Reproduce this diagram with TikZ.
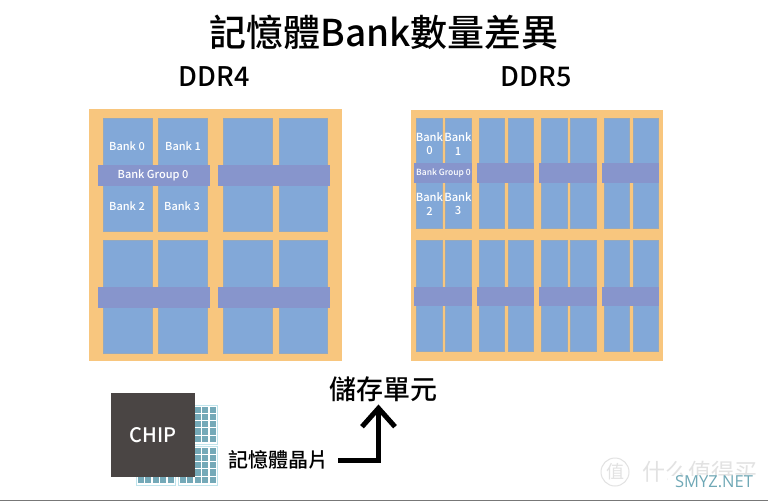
\documentclass[tikz,border=0pt]{standalone}
\usepackage{fontspec}
\usetikzlibrary{arrows.meta}
\setmainfont{Open Sans}
\newfontfamily\cjk{Noto Sans CJK TC}
\newfontfamily\cjkm{Noto Sans CJK TC Medium}
\definecolor{orangebg}{HTML}{F8C67E}
\definecolor{bankblue}{HTML}{82A8D8}
\definecolor{bankedge}{HTML}{95A9BE}
\definecolor{barblue}{HTML}{8795CC}
\definecolor{chipgrey}{HTML}{4A4544}
\definecolor{cellteal}{HTML}{74A9B8}
\definecolor{celledge}{HTML}{BFE4EC}
\definecolor{marktxt}{HTML}{E2E2E2}
\definecolor{netteal}{HTML}{6FA8B6}
\definecolor{rulegrey}{HTML}{777777}
\newcommand{\fsz}[1]{\fontsize{#1}{#1}\selectfont}
\tikzset{
  x=1pt,y=-1pt,
  board/.style={fill=orangebg,draw=none},
  column/.style={fill=bankblue,draw=bankedge,line width=0.7pt},
  groupbar/.style={fill=barblue,draw=none},
  banklabel/.style={text=white,inner sep=0pt,align=center,font=\fsz{11}\cjkm},
  banklabelb/.style={text=white,inner sep=0pt,align=center,font=\fsz{11.2}\cjkm,text width=28pt},
  headline/.style={text=black,inner sep=0pt,font=\fsz{27}\cjkm},
  piece/.style={fill=white,draw=celledge,line width=0.9pt},
  cell/.style={fill=cellteal,draw=none},
}
\begin{document}
\begin{tikzpicture}
\useasboundingbox (0,0) rectangle (768,501);
\fill[white] (0,0) rectangle (768,501);
% titles
\node[inner sep=0pt,font=\fsz{37}\cjkm] (title) at (384,32) {記憶體Bank數量差異};
\node[headline] (ddr4) at (214,77) {DDR4};
\node[headline] (ddr5) at (536,77) {DDR5};
% DDR4 board
\fill[board] (89,109) rectangle (342,361);
\foreach \a/\b in {103/152,158/207,223/272,279/327}{
  \draw[column] (\a,118) rectangle (\b,231);
  \draw[column] (\a,240) rectangle (\b,353);
}
\foreach \a/\b in {98/210,218/330}{
  \fill[groupbar] (\a,165) rectangle (\b,186);
  \fill[groupbar] (\a,287) rectangle (\b,308);
}
\node[banklabel] (a0) at (127,146) {Bank 0};
\node[banklabel] (a1) at (183,146) {Bank 1};
\node[banklabel] (ag) at (153,175) {Bank Group 0};
\node[banklabel] (a2) at (127,206) {Bank 2};
\node[banklabel] (a3) at (182,206) {Bank 3};
% DDR5 board
\fill[board] (411,110) rectangle (663,361);
\foreach \a/\b in {416/442,445/471,479/504,508/533,541/567,570/596,604/629,633/658}{
  \draw[column] (\a,118) rectangle (\b,228);
  \draw[column] (\a,240) rectangle (\b,351);
}
\foreach \a/\b in {414/472,477/534,539/597,602/659}{
  \fill[groupbar] (\a,163) rectangle (\b,183);
  \fill[groupbar] (\a,287) rectangle (\b,306);
}
\node[banklabelb] (b0) at (429.5,144) {Bank\\[2pt]0};
\node[banklabelb] (b1) at (458,144) {Bank\\[2pt]1};
\node[banklabel,font=\fsz{8.5}\cjkm] (bg) at (443.5,173.5) {Bank Group 0};
\node[banklabelb] (b2) at (429.5,204) {Bank\\[2pt]2};
\node[banklabelb] (b3) at (458,204) {Bank\\[2pt]3};
% memory dies
\foreach \px/\py in {178/405,178/446,136/446}{
  \draw[piece] (\px,\py) rectangle ++(39,39);
  \foreach \i in {0,...,4}{\foreach \j in {0,...,4}{
    \fill[cell] (\px+1.5+7.5*\i,\py+1.5+7.3*\j) rectangle ++(6.3,6.2);
  }}
}
% chip
\node[fill=chipgrey,text=white,minimum width=84pt,minimum height=84pt,inner sep=0pt,font=\fsz{20}\cjkm] (chip) at (153,435) {CHIP};
% labels and connector
\node[inner sep=0pt,font=\fsz{20}\cjkm] (dies) at (278,460) {記憶體晶片};
\node[inner sep=0pt,font=\fsz{27}\cjkm] (cells) at (383,389.5) {儲存單元};
\coordinate (tip) at ([xshift=-4.5pt,yshift=-6pt]cells.south);
\coordinate (start) at ([xshift=10pt]dies.east);
\coordinate (bend) at (start -| tip);
\coordinate (barbleft) at ([xshift=-16.5pt,yshift=-18.5pt]tip);
\coordinate (barbright) at ([xshift=16.5pt,yshift=-18.5pt]tip);
\draw[line width=5pt] (start) -- (bend) -- (tip);
\draw[line width=5pt,miter limit=10] (barbleft) -- (tip) -- (barbright);
% watermark
\draw[marktxt,line width=1pt] (615,472) circle (14);
\node[inner sep=0pt,text=marktxt,font=\fsz{18}\cjk] (markglyph) at (615,472) {值};
\node[inner sep=0pt,text=marktxt,font=\fsz{23}\cjk,anchor=west] (markname) at (642,472) {什么值得买};
\fill[white] (668,476) rectangle (768,495);
\node[inner sep=0pt,text=netteal,font=\fsz{16.5}] (net) at (714,482) {SMYZ.NET};
\fill[rulegrey] (0,500) rectangle (768,501);
\end{tikzpicture}
\end{document}
